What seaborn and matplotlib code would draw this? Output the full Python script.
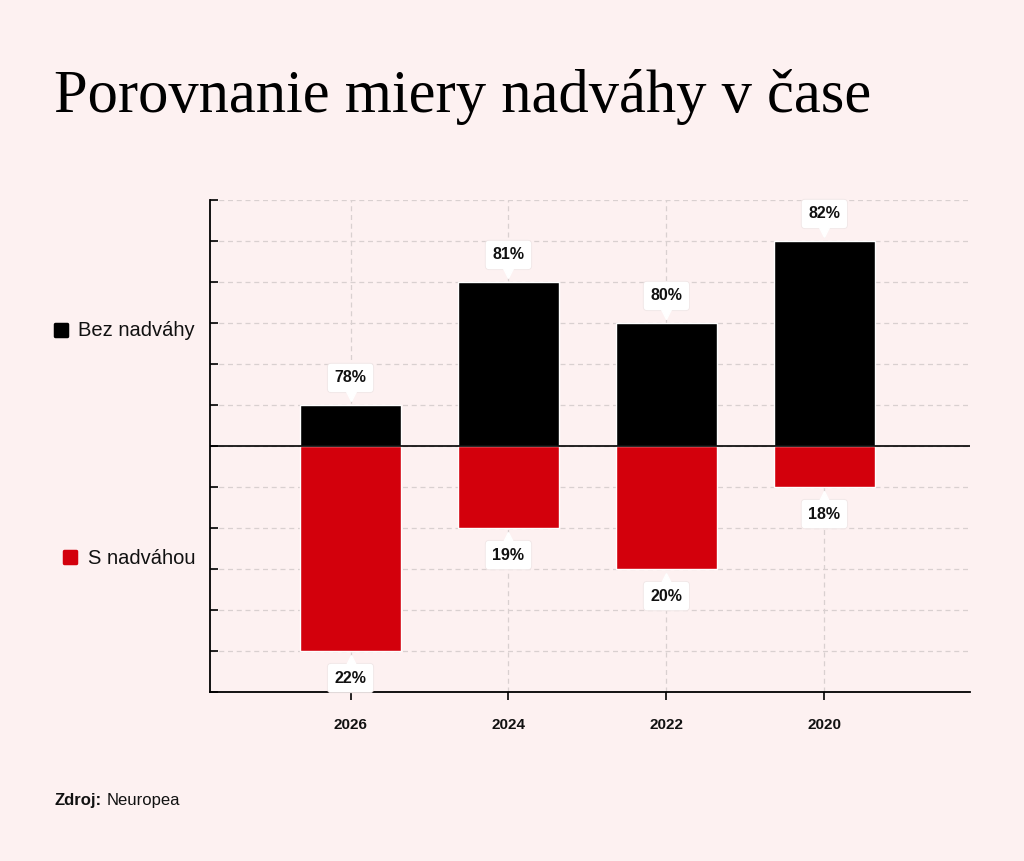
import matplotlib
matplotlib.use("Agg")
import matplotlib.pyplot as plt
from matplotlib.lines import Line2D
from matplotlib.markers import MarkerStyle
import seaborn as sns
import pandas as pd

# data
years = ["2026", "2024", "2022", "2020"]
bez_nadvahy = [78, 81, 80, 82]
s_nadvahou = [22, 19, 20, 18]
# baselines the original chart measured the bars from
bez_base = 77
s_base = 17

bg = "#fdf1f1"
black = "#000000"
red = "#d3000c"

sns.set_theme(style="white")
plt.rcParams["font.family"] = ["Liberation Sans", "DejaVu Sans"]

df = pd.DataFrame({
    "year": years,
    "up": [v - bez_base for v in bez_nadvahy],
    "down": [-(v - s_base) for v in s_nadvahou],
})

fig = plt.figure(figsize=(10.24, 8.61), dpi=100, facecolor=bg)
ax = fig.add_axes([0.205, 0.1963, 0.742, 0.5714])
ax.set_facecolor(bg)

sns.barplot(data=df, x="year", y="up", color=black, width=0.64, ax=ax,
            saturation=1, zorder=3)
sns.barplot(data=df, x="year", y="down", color=red, width=0.64, ax=ax,
            saturation=1, zorder=3)

ax.set_xlim(-0.89, 3.92)
ax.set_ylim(-6, 6)
ax.set_yticks(range(-6, 7))
ax.set_yticklabels([])
ax.set_xlabel("")
ax.set_ylabel("")
ax.grid(True, axis="both", color="#d9d0d0", linestyle=(0, (4, 3)), linewidth=0.9, zorder=0)
ax.axhline(0, color="black", linewidth=1.2, zorder=4)

for side in ["top", "right"]:
    ax.spines[side].set_visible(False)
for side in ["left", "bottom"]:
    ax.spines[side].set_color("black")
    ax.spines[side].set_linewidth(1.3)
ax.tick_params(axis="y", left=True, direction="in", length=5.5, width=1.2, color="black")
ax.tick_params(axis="x", bottom=True, direction="out", length=6, width=1.2, color="black", pad=13)
for lbl in ax.get_xticklabels():
    lbl.set_fontweight("bold")
    lbl.set_fontsize(11)
    lbl.set_color("#111111")

box = dict(boxstyle="round,pad=0.45,rounding_size=0.25", fc="white", ec="#f0e6e6", lw=0.6)
for i, (b, s) in enumerate(zip(bez_nadvahy, s_nadvahou)):
    top = b - bez_base
    ax.text(i, top + 0.66, f"{b}%", ha="center", va="center", fontsize=11.5,
            fontweight="bold", color="#111111", bbox=box, zorder=6)
    ax.plot(i, top + 0.22, marker="v", color="white", markersize=7, zorder=7)
    bot = -(s - s_base)
    ax.text(i, bot - 0.66, f"{s}%", ha="center", va="center", fontsize=11.5,
            fontweight="bold", color="#111111", bbox=box, zorder=6)
    ax.plot(i, bot - 0.22, marker="^", color="white", markersize=7, zorder=7)

# legend on the left
sq = MarkerStyle("s", joinstyle="round")
fig.add_artist(Line2D([60.5 / 1024], [1 - 330 / 861], marker=sq, markersize=8,
                      color=black, mew=2.5, transform=fig.transFigure))
fig.text(0.1905, 1 - 331 / 861, "Bez nadváhy", fontsize=14.5, color="#111111", ha="right", va="center")
fig.add_artist(Line2D([69.5 / 1024], [1 - 557 / 861], marker=sq, markersize=8,
                      color=red, mew=2.5, transform=fig.transFigure))
fig.text(0.1905, 1 - 558 / 861, "S nadváhou", fontsize=14.5, color="#111111", ha="right", va="center")

fig.text(0.053, 1 - 97 / 861, "Porovnanie miery nadváhy v čase", fontsize=43.7,
         family=["Liberation Serif", "DejaVu Serif"], color="black", ha="left", va="center")

fig.text(0.053, 1 - 800 / 861, "Zdroj:", fontsize=12, fontweight="bold", color="#111111",
         ha="left", va="center")
fig.text(0.1045, 1 - 800 / 861, "Neuropea", fontsize=12, color="#111111", ha="left", va="center")

fig.savefig("out.png", dpi=100, facecolor=bg)
